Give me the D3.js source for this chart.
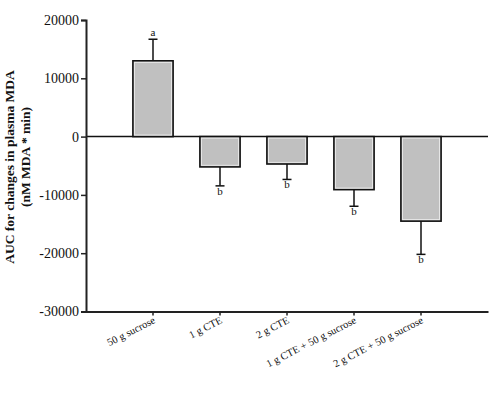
<!DOCTYPE html>
<html>
<head>
<meta charset="utf-8">
<script src="https://cdn.jsdelivr.net/npm/d3@7"></script>
<style>
  body { margin: 0; background: #fff; }
  svg { display: block; }
  text { font-family: "Liberation Serif", "Times New Roman", serif; fill: #111; }
</style>
</head>
<body>
<svg></svg>
<script>
const width = 490;
const height = 396;

// data
const groups = ['50 g sucrose', '1 g CTE', '2 g CTE', '1 g CTE + 50 g sucrose', '2 g CTE + 50 g sucrose'];
const values = [13000, -5200, -4700, -9100, -14500];
const errors = [3700, 3250, 2650, 2850, 5700];
const letters = ['a', 'b', 'b', 'b', 'b'];
const yTicks = [20000, 10000, 0, -10000, -20000, -30000];

const margin = {left: 86, right: 2, top: 20, bottom: 84.5};

const svg = d3.select('svg')
    .attr('width', width).attr('height', height);

const x = d3.scaleBand()
    .domain(groups)
    .range([margin.left, width - margin.right])
    .paddingInner(0.4)
    .paddingOuter(0.7);

const y = d3.scaleLinear()
    .domain([-30000, 20000])
    .range([height - margin.bottom, margin.top]);

// zero line
svg.append('line')
    .attr('x1', margin.left).attr('x2', width - margin.right)
    .attr('y1', y(0)).attr('y2', y(0))
    .style('stroke', '#111')
    .style('stroke-width', 1.5);

// bars
const bars = svg.selectAll('.bar')
    .data(groups)
    .enter().append('g')
    .attr('class', 'bar');

bars.append('rect')
    .attr('x', d => x(d))
    .attr('width', x.bandwidth())
    .attr('y', (d, i) => y(Math.max(0, values[i])))
    .attr('height', (d, i) => Math.abs(y(values[i]) - y(0)))
    .style('fill', '#c0c0c0')
    .style('stroke', '#111')
    .style('stroke-width', 1.6);

// light inner edge
bars.append('rect')
    .attr('x', d => x(d) + 1.6)
    .attr('width', x.bandwidth() - 3.2)
    .attr('y', (d, i) => y(Math.max(0, values[i])) + 1.6)
    .attr('height', (d, i) => Math.abs(y(values[i]) - y(0)) - 3.2)
    .style('fill', 'none')
    .style('stroke', '#e6e6e6')
    .style('stroke-width', 1);

// error bars, one-sided away from zero
function tipValue(i) {
    return values[i] >= 0 ? values[i] + errors[i] : values[i] - errors[i];
}

bars.append('line')
    .attr('x1', d => x(d) + x.bandwidth() / 2)
    .attr('x2', d => x(d) + x.bandwidth() / 2)
    .attr('y1', (d, i) => y(values[i]))
    .attr('y2', (d, i) => y(tipValue(i)))
    .style('stroke', '#111')
    .style('stroke-width', 1.5);

bars.append('line')
    .attr('x1', d => x(d) + x.bandwidth() / 2 - 4.5)
    .attr('x2', d => x(d) + x.bandwidth() / 2 + 4.5)
    .attr('y1', (d, i) => y(tipValue(i)))
    .attr('y2', (d, i) => y(tipValue(i)))
    .style('stroke', '#111')
    .style('stroke-width', 1.5);

// significance letters
bars.append('text')
    .attr('x', d => x(d) + x.bandwidth() / 2)
    .attr('y', (d, i) => values[i] >= 0 ? y(tipValue(i)) - 3 : y(tipValue(i)) + 9)
    .attr('text-anchor', 'middle')
    .style('font-size', '11px')
    .text((d, i) => letters[i]);

// y axis
const yAxis = svg.append('g')
    .attr('transform', `translate(${margin.left},0)`)
    .call(d3.axisLeft(y).tickValues(yTicks).tickSize(5).tickPadding(2).tickFormat(d => String(d)));
yAxis.select('.domain').style('stroke', '#222').style('stroke-width', 2);
yAxis.selectAll('.tick line').style('stroke', '#222').style('stroke-width', 1.5);
yAxis.selectAll('.tick text')
    .style('font-size', '14px')
    .style('font-family', '"Liberation Serif", serif');

// x axis
const xAxis = svg.append('g')
    .attr('transform', `translate(0,${y(-30000)})`)
    .call(d3.axisBottom(x).tickSize(4).tickSizeOuter(0));
xAxis.select('.domain').style('stroke', '#222').style('stroke-width', 2);
xAxis.selectAll('.tick line').style('stroke', '#222').style('stroke-width', 1.5);
xAxis.selectAll('.tick text')
    .attr('text-anchor', 'end')
    .attr('x', 3)
    .attr('y', 11)
    .attr('dy', 0)
    .attr('transform', 'rotate(-27,3,11)')
    .style('font-size', '10.5px')
    .style('font-family', '"Liberation Serif", serif');

// y label
const labelY = svg.append('g')
    .style('font-weight', 'bold')
    .style('font-size', '13.5px');
labelY.append('text')
    .attr('transform', 'translate(14,167) rotate(-90)')
    .attr('text-anchor', 'middle')
    .text('AUC for changes in plasma MDA');
labelY.append('text')
    .attr('transform', 'translate(30,157) rotate(-90)')
    .attr('text-anchor', 'middle')
    .text('(nM MDA * min)');
</script>
</body>
</html>
